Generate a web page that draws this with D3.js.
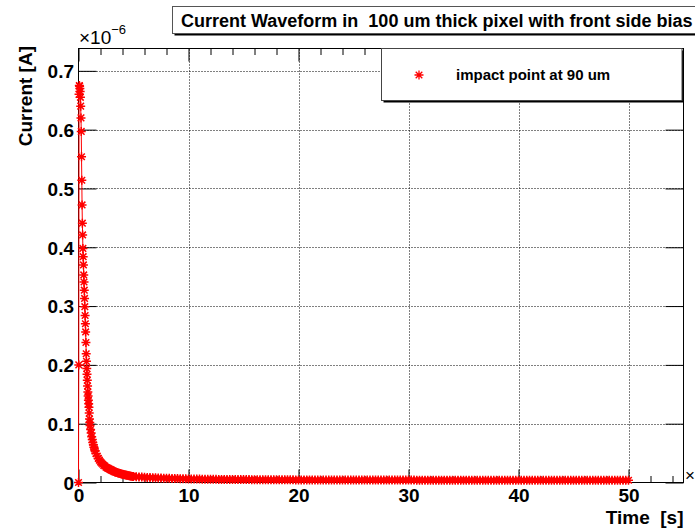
<!DOCTYPE html>
<html>
<head>
<meta charset="utf-8">
<script src="https://cdn.jsdelivr.net/npm/d3@7"></script>
<style>
  body { margin: 0; background: #fff; }
  svg { display: block; }
  text { font-family: "Liberation Sans", Arial, Helvetica, sans-serif; }
</style>
</head>
<body>
<svg id="chart" width="695" height="530"></svg>
<script>
// Induced current (units of 1e-6 A) versus time (units of 1e-9 s).
// Each block is sampled on its own regular time grid: start + i * step.
const riseStart = 0, riseStep = 0.025;
const riseCurrent = [
  0, 0.20, 0.66, 0.675, 0.674, 0.670, 0.665, 0.655, 0.640, 0.620,
  0.597, 0.554, 0.514, 0.472, 0.441, 0.421, 0.398, 0.384, 0.370, 0.353,
  0.341, 0.327, 0.313, 0.299, 0.284, 0.270, 0.256, 0.238, 0.219, 0.206,
  0.194, 0.184, 0.174, 0.164, 0.154, 0.147, 0.140, 0.134, 0.128, 0.118,
  0.108, 0.102, 0.097
];

const kneeStart = 1.1, kneeStep = 0.05;
const kneeCurrent = [0.090, 0.084, 0.078, 0.073, 0.068, 0.064, 0.060, 0.057, 0.054];

const decayStart = 1.6, decayStep = 0.1;
const decayCurrent = [
  0.049, 0.045, 0.041, 0.038, 0.035,
  0.033, 0.031, 0.029, 0.028, 0.026, 0.025, 0.024, 0.023, 0.022, 0.021,
  0.020, 0.019, 0.018, 0.0175, 0.017, 0.0163, 0.0157, 0.0151, 0.0145, 0.0140,
  0.0135, 0.0130, 0.0126, 0.0122, 0.0118, 0.0114, 0.0110, 0.0107, 0.0104, 0.0101
];

const tailStart = 5.25, tailStep = 0.25;
const tailCurrent = [
  0.0098, 0.0095, 0.0092, 0.0089,
  0.0087, 0.0084, 0.0082, 0.0080,
  0.0078, 0.0076, 0.0074, 0.0072,
  0.0071, 0.0069, 0.0068, 0.0066,
  0.0065, 0.0064, 0.0063, 0.0061,
  0.0060, 0.0060, 0.0059, 0.0058,
  0.0057, 0.0056, 0.0056, 0.0055,
  0.0054, 0.0054, 0.0053, 0.0053,
  0.0052, 0.0052, 0.0051, 0.0051,
  0.0050, 0.0050, 0.0050, 0.0049,
  0.0049, 0.0049, 0.0048, 0.0048,
  0.0048, 0.0047, 0.0047, 0.0047,
  0.0047, 0.0046, 0.0046, 0.0046,
  0.0046, 0.0045, 0.0045, 0.0045,
  0.0045, 0.0045, 0.0044, 0.0044,
  0.0044, 0.0044, 0.0044, 0.0044,
  0.0044, 0.0043, 0.0043, 0.0043,
  0.0043, 0.0043, 0.0043, 0.0043,
  0.0043, 0.0043, 0.0042, 0.0042,
  0.0042, 0.0042, 0.0042, 0.0042,
  0.0042, 0.0042, 0.0042, 0.0042,
  0.0042, 0.0042, 0.0041, 0.0041,
  0.0041, 0.0041, 0.0041, 0.0041,
  0.0041, 0.0041, 0.0041, 0.0041,
  0.0041, 0.0041, 0.0041, 0.0041,
  0.0041, 0.0041, 0.0040, 0.0040,
  0.0040, 0.0040, 0.0040, 0.0040,
  0.0040, 0.0040, 0.0040, 0.0040,
  0.0040, 0.0040, 0.0040, 0.0040,
  0.0040, 0.0040, 0.0040, 0.0040,
  0.0040, 0.0040, 0.0039, 0.0039,
  0.0039, 0.0039, 0.0039, 0.0039,
  0.0039, 0.0039, 0.0039, 0.0039,
  0.0039, 0.0039, 0.0039, 0.0039,
  0.0039, 0.0039, 0.0039, 0.0039,
  0.0039, 0.0039, 0.0039, 0.0039,
  0.0039, 0.0039, 0.0039, 0.0039,
  0.0039, 0.0039, 0.0039, 0.0038,
  0.0038, 0.0038, 0.0038, 0.0038,
  0.0038, 0.0038, 0.0038, 0.0038,
  0.0038, 0.0038, 0.0038, 0.0038,
  0.0038, 0.0038, 0.0038, 0.0038,
  0.0038, 0.0038, 0.0038, 0.0038,
  0.0038, 0.0038, 0.0038, 0.0038,
  0.0038, 0.0038, 0.0038, 0.0038
];

const timeMajorTicks = [0, 10, 20, 30, 40, 50];
const timeMinorTicks = [2, 4, 6, 8, 12, 14, 16, 18, 22, 24, 26, 28, 32, 34, 36, 38, 42, 44, 46, 48, 52, 54];
const currentTicks = [0, 0.1, 0.2, 0.3, 0.4, 0.5, 0.6, 0.7];
const timeMax = 55;
const currentMax = 0.738;

const titleText = "Current Waveform in  100 um thick pixel with front side bias";
const legendText = "impact point at 90 um";
const xTitle = "Time  [s]";
const yTitle = "Current [A]";

// ---------------------------------------------------------------------------
const blocks = [
  { start: riseStart, step: riseStep, values: riseCurrent },
  { start: kneeStart, step: kneeStep, values: kneeCurrent },
  { start: decayStart, step: decayStep, values: decayCurrent },
  { start: tailStart, step: tailStep, values: tailCurrent }
];
const points = blocks.flatMap(b => b.values.map((v, i) => ({ t: b.start + i * b.step, c: v })));

const frame = { left: 78.5, right: 683.5, top: 48.5, bottom: 482.5 };
const red = "#ff0000";

const svg = d3.select("#chart");
svg.append("rect").attr("width", 695).attr("height", 530).attr("fill", "#fff");

const x = d3.scaleLinear().domain([0, timeMax]).range([frame.left, frame.right]);
const y = d3.scaleLinear().domain([0, currentMax]).range([frame.bottom, frame.top]);

// dotted grid at the major divisions
const grid = svg.append("g").attr("stroke", "#000").attr("stroke-width", 1).attr("stroke-dasharray", "1,2");
grid.selectAll("line.gx").data(timeMajorTicks.filter(d => d > 0)).join("line")
  .attr("x1", d => Math.round(x(d)) + 0.5).attr("x2", d => Math.round(x(d)) + 0.5)
  .attr("y1", frame.bottom).attr("y2", frame.top);
grid.selectAll("line.gy").data(currentTicks.filter(d => d > 0)).join("line")
  .attr("y1", d => Math.round(y(d)) + 0.5).attr("y2", d => Math.round(y(d)) + 0.5)
  .attr("x1", frame.left).attr("x2", frame.right);

// inward ticks on all four sides
function tickAxis(gen, tx, ty) {
  const g = svg.append("g").attr("transform", `translate(${tx},${ty})`).call(gen);
  g.select(".domain").remove();
  g.selectAll("line").attr("stroke", "#000").attr("stroke-width", 1);
  return g;
}
tickAxis(d3.axisTop(x).tickValues(timeMajorTicks).tickSize(13).tickFormat(""), 0, frame.bottom);
tickAxis(d3.axisTop(x).tickValues(timeMinorTicks).tickSize(6.5).tickFormat(""), 0, frame.bottom);
tickAxis(d3.axisBottom(x).tickValues(timeMajorTicks).tickSize(13).tickFormat(""), 0, frame.top);
tickAxis(d3.axisBottom(x).tickValues(timeMinorTicks).tickSize(6.5).tickFormat(""), 0, frame.top);
tickAxis(d3.axisRight(y).tickValues(currentTicks).tickSize(18).tickFormat(""), frame.left, 0);
tickAxis(d3.axisLeft(y).tickValues(currentTicks).tickSize(18).tickFormat(""), frame.right, 0);

// frame
svg.append("rect")
  .attr("x", frame.left).attr("y", frame.top)
  .attr("width", frame.right - frame.left).attr("height", frame.bottom - frame.top)
  .attr("fill", "none").attr("stroke", "#000").attr("stroke-width", 1);

// tick labels
const xLab = svg.append("g").attr("transform", `translate(0,${frame.bottom})`)
  .call(d3.axisBottom(x).tickValues(timeMajorTicks).tickSize(0).tickPadding(6).tickFormat(d3.format("d")));
xLab.select(".domain").remove();
xLab.selectAll("text").attr("font-size", 19).attr("font-weight", "bold").attr("fill", "#000")
  .attr("font-family", '"Liberation Sans", Arial, sans-serif');

const yLab = svg.append("g").attr("transform", `translate(${frame.left},0)`)
  .call(d3.axisLeft(y).tickValues(currentTicks).tickSize(0).tickPadding(4.5)
    .tickFormat(d => d === 0 ? "0" : d3.format(".1f")(d)));
yLab.select(".domain").remove();
yLab.selectAll("text").attr("font-size", 19).attr("font-weight", "bold").attr("fill", "#000")
  .attr("dy", "0.36em")
  .attr("font-family", '"Liberation Sans", Arial, sans-serif');

// axis exponents (the time axis multiplier sits at the right edge of the canvas)
const expY = svg.append("text").attr("x", 79).attr("y", 44).attr("font-size", 19);
expY.append("tspan").text("\u00d710");
expY.append("tspan").attr("font-size", 13).attr("dy", -10).text("\u22126");
svg.append("text").attr("x", 685).attr("y", 481).attr("font-size", 17).text("\u00d7");

// axis titles
svg.append("text").attr("x", frame.right).attr("y", 524)
  .attr("text-anchor", "end").attr("font-size", 19).attr("font-weight", "bold")
  .style("white-space", "pre").text(xTitle);
svg.append("text").attr("transform", "translate(32,46) rotate(-90)")
  .attr("text-anchor", "end").attr("font-size", 19).attr("font-weight", "bold")
  .style("white-space", "pre").text(yTitle);

// waveform: connecting line and star markers
const line = d3.line().x(d => x(d.t)).y(d => y(d.c));
svg.append("path").datum(points).attr("d", line)
  .attr("fill", "none").attr("stroke", red).attr("stroke-width", 1);

const star = "M-4.5,0H4.5M0,-4.5V4.5M-3.3,-3.3L3.3,3.3M-3.3,3.3L3.3,-3.3";
svg.append("g").selectAll("path").data(points).join("path")
  .attr("transform", d => `translate(${x(d.t)},${y(d.c)})`)
  .attr("d", star).attr("fill", "none").attr("stroke", red).attr("stroke-width", 1.5);

// legend
const lg = { x: 381.5, y: 48.5, w: 300.5, h: 52 };
svg.append("rect").attr("x", lg.x + 2).attr("y", lg.y + 2).attr("width", lg.w).attr("height", lg.h).attr("fill", "#000");
svg.append("rect").attr("x", lg.x).attr("y", lg.y).attr("width", lg.w).attr("height", lg.h)
  .attr("fill", "#fff").attr("stroke", "#444").attr("stroke-width", 1);
svg.append("path").attr("transform", "translate(419,75)").attr("d", star)
  .attr("fill", "none").attr("stroke", red).attr("stroke-width", 1.3);
svg.append("text").attr("x", 456).attr("y", 80).attr("font-size", 15).attr("font-weight", "bold").text(legendText);

// title box
svg.append("rect").attr("x", 174.5).attr("y", 8.5).attr("width", 540).attr("height", 27).attr("fill", "#000");
svg.append("rect").attr("x", 172.5).attr("y", 6.5).attr("width", 540).attr("height", 27)
  .attr("fill", "#fff").attr("stroke", "#555").attr("stroke-width", 1);
svg.append("text").attr("x", 181).attr("y", 27).attr("font-size", 18).attr("font-weight", "bold")
  .style("white-space", "pre").text(titleText);
</script>
</body>
</html>
